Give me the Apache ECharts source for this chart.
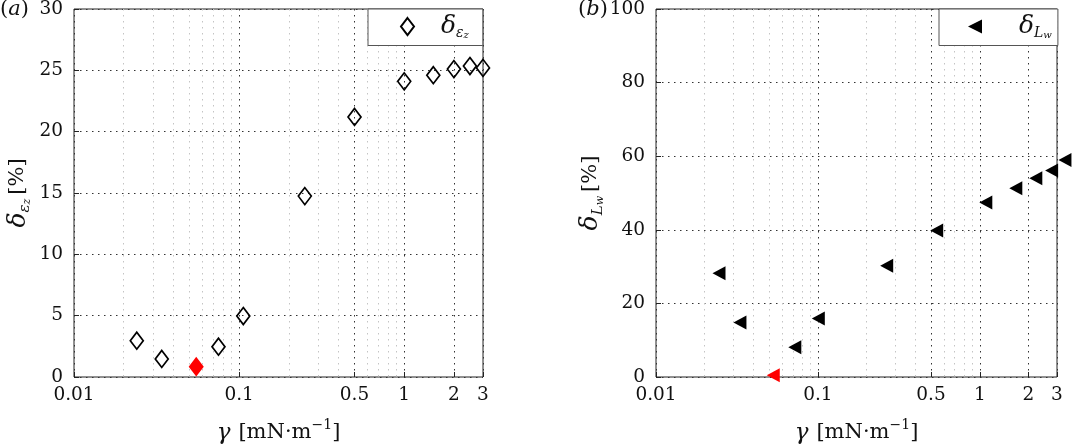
<!DOCTYPE html>
<html>
<head>
<meta charset="utf-8">
<script src="https://cdn.jsdelivr.net/npm/echarts@6/dist/echarts.min.js"></script>
<style>
html,body{margin:0;padding:0;background:#fff;}
#chart{width:1073px;height:448px;}
</style>
</head>
<body>
<div id="chart"></div>
<script>
// ---- data ----
const gammaA  = [0.024, 0.034, 0.055, 0.075, 0.106, 0.25, 0.5, 1.0, 1.5, 2.0, 2.5, 3.0];
const deltaEz = [2.96, 1.47, 0.84, 2.47, 4.97, 14.75, 21.2, 24.1, 24.6, 25.1, 25.35, 25.2];
const redIndexA = 2;

const gammaB  = [0.0245, 0.033, 0.053, 0.072, 0.1006, 0.266, 0.542, 1.09, 1.67, 2.22, 2.78, 3.36];
const deltaLw = [28.2, 14.8, 0.5, 8.1, 15.9, 30.2, 39.8, 47.4, 51.3, 54.0, 56.1, 59.0];
const redIndexB = 2;

const xTickValues = [0.01, 0.1, 0.5, 1, 2, 3];
const xTickLabels = ['0.01', '0.1', '0.5', '1', '2', '3'];
const xMinorValues = [0.02, 0.03, 0.04, 0.05, 0.06, 0.07, 0.08, 0.09, 0.2, 0.3, 0.4, 0.6, 0.7, 0.8, 0.9];
const yRangeA = [0, 30, 5];
const yRangeB = [0, 100, 20];

// ---- styling ----
const F = 'DejaVu Serif';
const TXT = '#111';
const majorGrid = {color: '#333', type: [1.5, 4.5], width: 1};
const minorGrid = {color: '#c4c4c4', type: [1.5, 4.5], width: 1};

function labelFor(v) {
  let best = 0, bd = Infinity;
  xTickValues.forEach((t, i) => {
    const d = Math.abs(Math.log10(v) - Math.log10(t));
    if (d < bd) { bd = d; best = i; }
  });
  return xTickLabels[best];
}

const titleRich = {
  g: {fontFamily: F, fontStyle: 'italic', fontSize: 23, lineHeight: 30, verticalAlign: 'middle', color: TXT},
  n: {fontFamily: F, fontSize: 21, lineHeight: 30, verticalAlign: 'middle', color: TXT},
  sp: {fontFamily: F, fontSize: 21, lineHeight: 30, verticalAlign: 'middle', color: TXT, padding: [0, 0, 0, 8]},
  sq: {fontFamily: F, fontSize: 21, lineHeight: 30, verticalAlign: 'middle', color: TXT, padding: [0, 0, 0, 4]},
  sup: {fontFamily: F, fontSize: 14, lineHeight: 14, verticalAlign: 'top', color: TXT},
  d: {fontFamily: F, fontStyle: 'italic', fontSize: 25, lineHeight: 30, verticalAlign: 'middle', color: TXT},
  s: {fontFamily: F, fontStyle: 'italic', fontSize: 15, lineHeight: 15, verticalAlign: 'bottom', color: TXT},
  ss: {fontFamily: F, fontStyle: 'italic', fontSize: 11, lineHeight: 10, verticalAlign: 'bottom', color: TXT}
};

function xMajor(gi) {
  return {
    type: 'log', logBase: 10, gridIndex: gi, min: 0.01, max: 3, position: 'bottom',
    axisLine: {show: false},
    axisTick: {show: true, inside: true, length: 5, customValues: xTickValues, lineStyle: {color: '#222'}},
    axisLabel: {customValues: xTickValues, formatter: labelFor, margin: 9,
                fontFamily: F, fontSize: 18.5, color: TXT},
    splitLine: {show: true, lineStyle: majorGrid},
    name: '{g|γ}{sp|[mN·m}{sup|−1}{n|]}',
    nameLocation: 'middle', nameGap: 41,
    nameTextStyle: {rich: titleRich}
  };
}
function xMinor(gi) {
  return {
    type: 'log', logBase: 10, gridIndex: gi, min: 0.01, max: 3, position: 'bottom',
    axisLine: {show: false},
    axisTick: {show: false, customValues: xMinorValues},
    axisLabel: {show: false, customValues: xMinorValues},
    splitLine: {show: true, lineStyle: minorGrid}
  };
}
function yAxis(gi, r, name, gap) {
  return {
    type: 'value', gridIndex: gi, min: r[0], max: r[1], interval: r[2],
    axisLine: {show: false},
    axisTick: {show: true, inside: true, length: 5, lineStyle: {color: '#222'}},
    axisLabel: {margin: 11, fontFamily: F, fontSize: 18.5, color: TXT},
    splitLine: {show: true, lineStyle: majorGrid},
    name: name, nameLocation: 'middle', nameGap: gap, nameRotate: 90,
    nameTextStyle: {rich: titleRich}
  };
}

function pts(xs, ys, red) {
  return xs.map((g, i) => i === red
    ? {value: [g, ys[i]], itemStyle: {color: '#ff0000', borderColor: '#ff0000', opacity: 1}}
    : [g, ys[i]]);
}

const legendRich = {
  d: {fontFamily: F, fontStyle: 'italic', fontSize: 25, lineHeight: 28, verticalAlign: 'middle', color: TXT},
  s: {fontFamily: F, fontStyle: 'italic', fontSize: 14, lineHeight: 14, verticalAlign: 'bottom', color: TXT},
  ss: {fontFamily: F, fontStyle: 'italic', fontSize: 10, lineHeight: 9, verticalAlign: 'bottom', color: TXT}
};

const option = {
  animation: false,
  backgroundColor: '#fff',
  title: [
    {text: '({i|a})', left: 0, top: -1, padding: 0,
     textStyle: {fontFamily: F, fontSize: 21, fontWeight: 'normal', color: TXT,
       rich: {i: {fontFamily: F, fontStyle: 'italic', fontSize: 21, color: TXT}}}},
    {text: '({i|b})', left: 578, top: -1, padding: 0,
     textStyle: {fontFamily: F, fontSize: 21, fontWeight: 'normal', color: TXT,
       rich: {i: {fontFamily: F, fontStyle: 'italic', fontSize: 21, color: TXT}}}}
  ],
  grid: [
    {left: 74, right: 590, top: 9, bottom: 71, outerBoundsMode: 'none', containLabel: false,
     show: true, borderColor: '#222', borderWidth: 1, backgroundColor: 'transparent'},
    {left: 656, right: 16, top: 9, bottom: 71, outerBoundsMode: 'none', containLabel: false,
     show: true, borderColor: '#222', borderWidth: 1, backgroundColor: 'transparent'}
  ],
  xAxis: [xMajor(0), xMinor(0), xMajor(1), xMinor(1)],
  yAxis: [
    yAxis(0, yRangeA, '{d|δ}{s|ε}{ss|z}{sq|[%]}', 41),
    yAxis(1, yRangeB, '{d|δ}{s|L}{ss|w}{sq|[%]}', 46)
  ],
  legend: [
    {data: ['dEz'], left: 368, top: 9, padding: [5, 14, 5, 32], itemWidth: 13, itemHeight: 17,
     borderColor: '#555', borderWidth: 1, borderRadius: 0, backgroundColor: '#fff', selectedMode: false,
     formatter: () => '{d|δ}{s|ε}{ss|z}',
     textStyle: {padding: [0, 0, 0, 22], rich: legendRich}},
    {data: [{name: 'dLw', icon: 'path://M0,50 L100,0 L100,100 Z'}], left: 939, top: 9,
     padding: [5, 6, 5, 29], itemWidth: 14, itemHeight: 14,
     borderColor: '#555', borderWidth: 1, borderRadius: 0, backgroundColor: '#fff', selectedMode: false,
     formatter: () => '{d|δ}{s|L}{ss|w}',
     textStyle: {padding: [0, 0, 0, 32], rich: legendRich}}
  ],
  series: [
    {name: 'dEz', type: 'scatter', xAxisIndex: 0, yAxisIndex: 0, clip: false,
     symbol: 'diamond', symbolSize: [13, 17],
     itemStyle: {color: 'rgba(255,255,255,0)', borderColor: '#000', borderWidth: 1.7, opacity: 1},
     data: pts(gammaA, deltaEz, redIndexA), z: 5},
    {name: 'dLw', type: 'scatter', xAxisIndex: 2, yAxisIndex: 1, clip: false,
     symbol: 'triangle', symbolRotate: 90, symbolSize: [14, 13],
     itemStyle: {color: '#000', borderWidth: 0, opacity: 1},
     data: pts(gammaB, deltaLw, redIndexB), z: 5}
  ]
};

const chart = echarts.init(document.getElementById('chart'), null, {renderer: 'canvas'});
chart.setOption(option);
</script>
</body>
</html>
